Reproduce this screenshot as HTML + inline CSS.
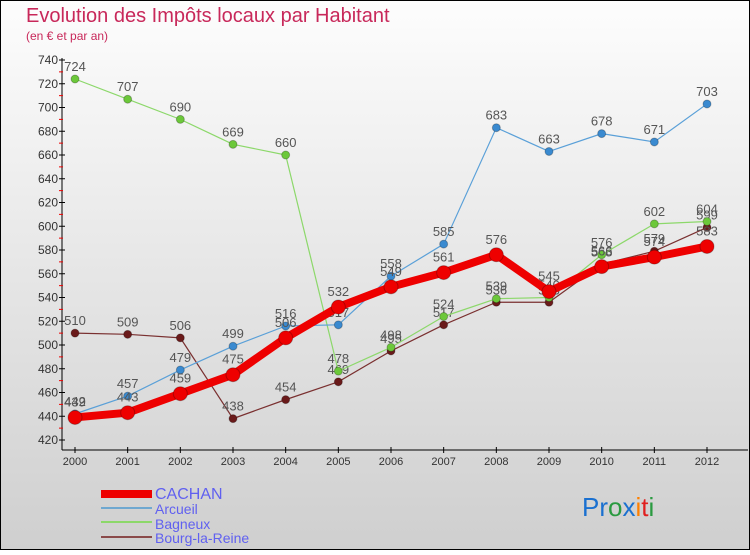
<!DOCTYPE html>
<html><head><meta charset="utf-8"><style>
html,body{margin:0;padding:0}
body{width:750px;height:550px;overflow:hidden;font-family:"Liberation Sans","DejaVu Sans",sans-serif}
</style></head><body>
<svg id="chart" width="750" height="550" xmlns="http://www.w3.org/2000/svg">
<defs>
<linearGradient id="bg" x1="0" y1="0" x2="0" y2="1"><stop offset="0" stop-color="#fdfdfd"/><stop offset="1" stop-color="#cfcfcf"/></linearGradient>
</defs>
<rect x="0.5" y="0.5" width="749" height="549" fill="url(#bg)" stroke="#000"/>
<text x="26" y="22" font-size="20" fill="#c8285a">Evolution des Impôts locaux par Habitant</text>
<text x="26" y="40" font-size="12" fill="#c8285a">(en € et par an)</text>
<g id="axes"></g>
<g id="series"></g>
<g>
<rect x="101" y="490" width="51" height="8" fill="#e00"/>
<line x1="101" y1="508" x2="152" y2="508" stroke="#6fa8d0" stroke-width="2"/>
<line x1="101" y1="522" x2="152" y2="522" stroke="#8cd86a" stroke-width="2"/>
<line x1="101" y1="537" x2="152" y2="537" stroke="#8a4a4a" stroke-width="2"/>
<text x="155" y="499" font-size="16" fill="#6060f0">CACHAN</text>
<text x="155" y="514" font-size="14" fill="#6060f0">Arcueil</text>
<text x="155" y="529" font-size="14" fill="#6060f0">Bagneux</text>
<text x="155" y="543" font-size="14" fill="#6060f0">Bourg-la-Reine</text>
</g>
<g font-size="26">
<text x="582" y="516"><tspan fill="#1a70d0">Pr</tspan><tspan fill="#2a9a40">o</tspan><tspan fill="#1a70d0">x</tspan><tspan fill="#ff8000">i</tspan><tspan fill="#e02020">t</tspan><tspan fill="#2a9a40">i</tspan></text>
</g>
</svg>
<script>
const years=[2000,2001,2002,2003,2004,2005,2006,2007,2008,2009,2010,2011,2012];
const cachan=[439,443,459,475,506,532,549,561,576,545,566,574,583];
const arcueil=[442,457,479,499,516,517,558,585,683,663,678,671,703];
const bagneux=[724,707,690,669,660,478,498,524,539,540,576,602,604];
const bourg=[510,509,506,438,454,469,495,517,536,536,568,579,599];
const yTicks=[420,440,460,480,500,520,540,560,580,600,620,640,660,680,700,720,740];

const NS="http://www.w3.org/2000/svg";
function X(i){return 75+i*(707-75)/12;}
function Y(v){return 440-(v-420)*380/320;}
function el(t,a,p){const e=document.createElementNS(NS,t);for(const k in a)e.setAttribute(k,a[k]);p.appendChild(e);return e;}
const axes=document.getElementById('axes');
el('line',{x1:62,y1:58,x2:62,y2:450,stroke:'#000'},axes);
el('line',{x1:62,y1:450,x2:748,y2:450,stroke:'#000'},axes);
yTicks.forEach((v,i)=>{
 el('line',{x1:59,y1:Y(v),x2:65,y2:Y(v),stroke:'#000'},axes);
 if(i<yTicks.length-1) el('line',{x1:59,y1:Y(v+10),x2:63,y2:Y(v+10),stroke:'#e00'},axes);
 const t=el('text',{x:58,y:Y(v)+4,'text-anchor':'end','font-size':12,fill:'#333'},axes);
 
 
 t.textContent=v;
});
years.forEach((y,i)=>{
 el('line',{x1:X(i),y1:447,x2:X(i),y2:453,stroke:'#000'},axes);
 const t=el('text',{x:X(i),y:465,'text-anchor':'middle','font-size':11,fill:'#333'},axes);
 
 
 t.textContent=y;
});
const sg=document.getElementById('series');
function draw(name,vals,color,dot,w,r){
 const g=el('g',{},sg);
 
 
 el('polyline',{points:vals.map((v,i)=>X(i)+','+Y(v)).join(' '),fill:'none',stroke:color,'stroke-width':w,'stroke-linejoin':'round'},g);
 vals.forEach((v,i)=>{
  const c=el('circle',{cx:X(i),cy:Y(v),r:r,fill:dot,stroke:'rgba(0,0,0,0.25)'},g);
  
  
  const t=el('text',{x:X(i),y:Y(v)-(r+4),'text-anchor':'middle','font-size':13,fill:'#555'},g);
  
  
  t.textContent=v;
 });
}
draw('bourg-la-reine',bourg,'#7a3030','#6a1a1a',1.2,4);
draw('bagneux',bagneux,'#8cd86a','#6cc83a',1.2,4);
draw('arcueil',arcueil,'#5aa0d8','#3a8ad0',1.2,4);
draw('cachan',cachan,'#ee0000','#ee0000',8,7);
</script>
</body></html>
